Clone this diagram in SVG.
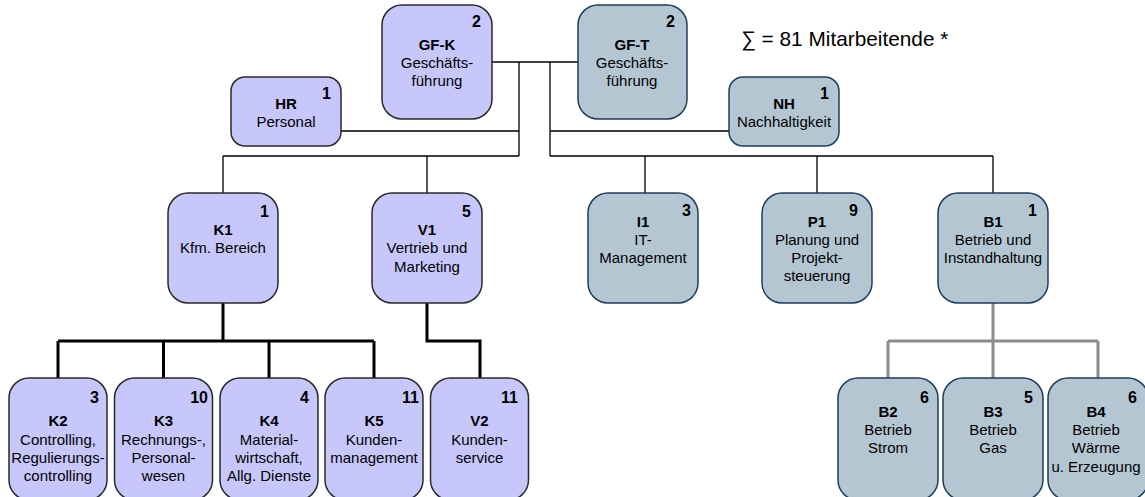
<svg xmlns="http://www.w3.org/2000/svg" width="1145" height="497" viewBox="0 0 1145 497">
<style>
text{font-family:"Liberation Sans",Arial,sans-serif;fill:#000}
.k rect{fill:#c7c7fb;stroke:#2a2a2a;stroke-width:1.5}
.t rect{fill:#b5c6d3;stroke:#1f3d5c;stroke-width:1.5}
.num{font-size:16px;font-weight:bold;text-anchor:end}
.lb{font-size:15px;font-weight:bold;text-anchor:middle}
.d{font-size:15px;text-anchor:middle}
.thin{fill:none;stroke:#000;stroke-width:1.3}
.thick{fill:none;stroke:#000;stroke-width:3}
.gray{fill:none;stroke:#8c8c8c;stroke-width:3}
</style>
<rect width="1145" height="497" fill="#fff"/>
<g id="connectors">
<path class="thin" d="M492 62H578M519 62V156M341 131H519M223 156H519M223 156V193M427 156V193M550 62V156M550 131H729M550 156H993M645 156V193M817 156V193M993 156V193"/>
<path class="thick" d="M223 303V341M58 341H374M58 341V378M163.5 341V378M269 341V378M374 341V378M427 303V341H480V378"/>
<path class="gray" d="M993 303V341M888 341H1098M888 341V378M993 341V378M1098 341V378"/>
</g>
<g id="GF-K" class="k"><rect x="382" y="5" width="110" height="114" rx="20"/><text class="num" x="481" y="27">2</text><text class="lb" x="437" y="50">GF-K</text><text class="d" x="437" y="68">Geschäfts-</text><text class="d" x="437" y="86">führung</text></g>
<g id="GF-T" class="t"><rect x="578" y="5" width="109" height="114" rx="20"/><text class="num" x="675" y="27">2</text><text class="lb" x="632" y="50">GF-T</text><text class="d" x="632" y="68">Geschäfts-</text><text class="d" x="632" y="86">führung</text></g>
<g id="HR" class="k"><rect x="231" y="77" width="110" height="69" rx="14"/><text class="num" x="331" y="99">1</text><text class="lb" x="286" y="109">HR</text><text class="d" x="286" y="127">Personal</text></g>
<g id="NH" class="t"><rect x="729" y="77" width="110" height="69" rx="14"/><text class="num" x="829" y="99">1</text><text class="lb" x="784" y="109">NH</text><text class="d" x="784" y="127">Nachhaltigkeit</text></g>
<text x="741" y="46" font-size="20.8" style="font-family:'Liberation Sans','DejaVu Sans',sans-serif">∑ = 81 Mitarbeitende *</text>
<g id="K1" class="k"><rect x="168" y="193" width="110" height="110" rx="20"/><text class="num" x="269" y="217">1</text><text class="lb" x="223" y="235">K1</text><text class="d" x="223" y="253">Kfm. Bereich</text></g>
<g id="V1" class="k"><rect x="372" y="193" width="110" height="110" rx="20"/><text class="num" x="471" y="217">5</text><text class="lb" x="427" y="235">V1</text><text class="d" x="427" y="253">Vertrieb und</text><text class="d" x="427" y="272">Marketing</text></g>
<g id="I1" class="t"><rect x="588" y="193" width="110" height="110" rx="20"/><text class="num" x="691" y="216">3</text><text class="lb" x="643" y="227">I1</text><text class="d" x="643" y="245">IT-</text><text class="d" x="643" y="263">Management</text></g>
<g id="P1" class="t"><rect x="762" y="193" width="110" height="110" rx="20"/><text class="num" x="858" y="216">9</text><text class="lb" x="817" y="227">P1</text><text class="d" x="817" y="245">Planung und</text><text class="d" x="817" y="263">Projekt-</text><text class="d" x="817" y="281">steuerung</text></g>
<g id="B1" class="t"><rect x="938" y="193" width="110" height="110" rx="20"/><text class="num" x="1037" y="216">1</text><text class="lb" x="993" y="227">B1</text><text class="d" x="993" y="245">Betrieb und</text><text class="d" x="993" y="263">Instandhaltung</text></g>
<g id="K2" class="k"><rect x="9" y="378" width="98" height="122" rx="20"/><text class="num" x="99" y="403">3</text><text class="lb" x="58" y="426">K2</text><text class="d" x="58" y="445">Controlling,</text><text class="d" x="58" y="463">Regulierungs-</text><text class="d" x="58" y="481">controlling</text></g>
<g id="K3" class="k"><rect x="114.5" y="378" width="98" height="122" rx="20"/><text class="num" x="208" y="403">10</text><text class="lb" x="163.5" y="426">K3</text><text class="d" x="163.5" y="445">Rechnungs-,</text><text class="d" x="163.5" y="463">Personal-</text><text class="d" x="163.5" y="481">wesen</text></g>
<g id="K4" class="k"><rect x="220" y="378" width="98" height="122" rx="20"/><text class="num" x="309" y="403">4</text><text class="lb" x="269" y="426">K4</text><text class="d" x="269" y="445">Material-</text><text class="d" x="269" y="463">wirtschaft,</text><text class="d" x="269" y="481">Allg. Dienste</text></g>
<g id="K5" class="k"><rect x="325" y="378" width="98" height="122" rx="20"/><text class="num" x="419" y="403">11</text><text class="lb" x="374" y="426">K5</text><text class="d" x="374" y="445">Kunden-</text><text class="d" x="374" y="463">management</text></g>
<g id="V2" class="k"><rect x="430.5" y="378" width="98" height="122" rx="20"/><text class="num" x="518" y="403">11</text><text class="lb" x="479.5" y="426">V2</text><text class="d" x="479.5" y="445">Kunden-</text><text class="d" x="479.5" y="463">service</text></g>
<g id="B2" class="t"><rect x="838" y="378" width="100" height="122" rx="20"/><text class="num" x="929" y="403">6</text><text class="lb" x="888" y="417">B2</text><text class="d" x="888" y="435">Betrieb</text><text class="d" x="888" y="453">Strom</text></g>
<g id="B3" class="t"><rect x="943" y="378" width="100" height="122" rx="20"/><text class="num" x="1033" y="403">5</text><text class="lb" x="993" y="417">B3</text><text class="d" x="993" y="435">Betrieb</text><text class="d" x="993" y="453">Gas</text></g>
<g id="B4" class="t"><rect x="1048" y="378" width="100" height="122" rx="20"/><text class="num" x="1137" y="403">6</text><text class="lb" x="1096" y="417">B4</text><text class="d" x="1096" y="435">Betrieb</text><text class="d" x="1096" y="453">Wärme</text><text class="d" x="1096" y="472">u. Erzeugung</text></g>
</svg>
